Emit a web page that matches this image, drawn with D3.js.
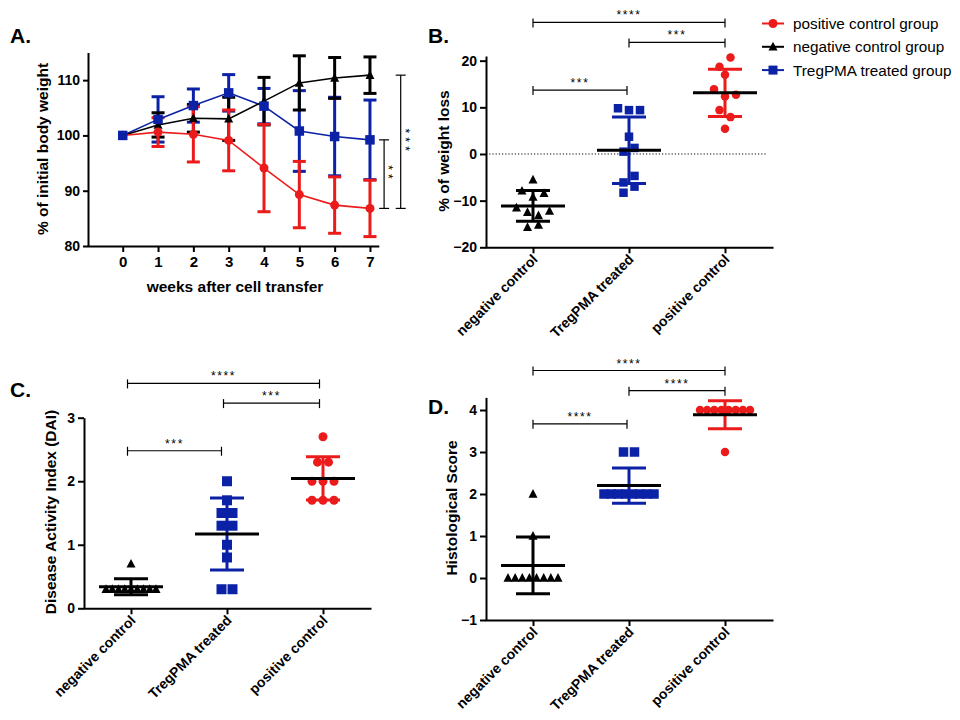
<!DOCTYPE html>
<html><head><meta charset="utf-8">
<script src="https://cdn.jsdelivr.net/npm/d3@7"></script>
<style>body{margin:0;background:#fff}svg{display:block}</style>
</head><body><svg id="c" width="960" height="720"></svg>
<script>
// ---------- DATA ----------
const weeks = [0, 1, 2, 3, 4, 5, 6, 7];
const posMean = [100, 100.6, 100.2, 99.1, 94.1, 89.3, 87.4, 86.8];
const posSD   = [0, 2.6, 5.0, 5.5, 7.9, 6.0, 5.1, 5.1];
const negMean = [100, 101.9, 103.1, 103.0, 106.2, 109.5, 110.4, 110.9];
const negSD   = [0, 2.2, 2.5, 3.9, 4.3, 4.9, 3.7, 3.3];
const tregMean = [100, 102.9, 105.4, 107.7, 105.3, 100.8, 99.8, 99.2];
const tregSD   = [0, 4.1, 3.0, 3.3, 3.2, 7.3, 7.1, 7.2];

const groupNames = ["positive control group", "negative control group", "TregPMA treated group"];
const categories = ["negative control", "TregPMA treated", "positive control"];

const lossNeg  = [-5.5, -7.9, -9.2, -8.4, -11.5, -12.5, -13.2, -12.2, -15.7, -15.2];
const lossTreg = [9.8, 9.4, 9.4, 3.7, 0.5, 1.3, -6.1, -4.7, -8.3, -7.0];
const lossPos  = [18.7, 20.7, 17.0, 13.9, 12.3, 12.7, 9.4, 7.9, 5.4];

const daiNeg  = [0.7, 0.3, 0.3, 0.3, 0.3, 0.3, 0.3, 0.3, 0.3, 0.3];
const daiTreg = [2.0, 1.7, 1.5, 1.5, 1.3, 1.3, 1.0, 0.8, 0.3, 0.3];
const daiPos  = [2.7, 2.3, 2.3, 2.0, 2.0, 2.0, 1.7, 1.7, 1.7];

const histNeg  = [2, 1, 0, 0, 0, 0, 0, 0, 0, 0];
const histTreg = [3, 3, 2, 2, 2, 2, 2, 2, 2, 2];
const histPos  = [4, 4, 4, 4, 4, 4, 4, 4, 3];

const yTicksA = [80, 90, 100, 110];
const yTicksB = [-20, -10, 0, 10, 20];
const yTicksC = [0, 1, 2, 3];
const yTicksD = [-1, 0, 1, 2, 3, 4];

// significance: [fromCategory, toCategory, label, level in data units]
const sigB = [[0, 2, "****", 28.2], [1, 2, "***", 23.9], [0, 1, "***", 13.7]];
const sigC = [[0, 2, "****", 3.54], [1, 2, "***", 3.23], [0, 1, "***", 2.48]];
const sigD = [[0, 2, "****", 4.94], [1, 2, "****", 4.46], [0, 1, "****", 3.67]];
// panel A brackets: [series top, series bottom, label, week position]
const sigA = [["treg", "pos", "**", 7.4], ["neg", "pos", "***", 7.87]];

// ---------- STYLE ----------
const FONT = "'Liberation Sans', Arial, Helvetica, sans-serif";
const RED = "#ec1b1b", BLUE = "#0c22a6", BLACK = "#000";
const svg = d3.select("#c");

function styleAxis(g, fs) {
  g.attr("font-family", FONT).attr("font-size", fs).attr("font-weight", "bold");
  g.selectAll("path.domain").attr("stroke", "#000").attr("stroke-width", 2);
  g.selectAll(".tick line").attr("stroke", "#000").attr("stroke-width", 2);
  g.selectAll(".tick text").attr("fill", "#000");
}
function marker(g, type, cx, cy, s, color) {
  if (type === "circle") g.append("circle").attr("cx", cx).attr("cy", cy).attr("r", s / 2).attr("fill", color);
  else if (type === "square") g.append("rect").attr("x", cx - s / 2).attr("y", cy - s / 2).attr("width", s).attr("height", s).attr("fill", color);
  else g.append("path").attr("d", `M${cx},${cy - s * 0.55}L${cx + s / 2},${cy + s * 0.42}L${cx - s / 2},${cy + s * 0.42}Z`).attr("fill", color);
}
function letter(t, x, y) {
  svg.append("text").attr("x", x).attr("y", y).text(t)
    .attr("font-family", FONT).attr("font-weight", "bold").attr("font-size", 21);
}
function yTitle(t, x, y) {
  svg.append("text").attr("transform", `translate(${x},${y}) rotate(-90)`).attr("text-anchor", "middle")
    .attr("font-family", FONT).attr("font-weight", "bold").attr("font-size", 15.5).text(t);
}

// ---------- PANEL A ----------
const xA = d3.scaleLinear().domain([-1, 7.25]).range([87.4, 378.8]);
const yA = d3.scaleLinear().domain([80, 115]).range([246, 52.5]);
svg.append("g").attr("transform", "translate(88,0)")
  .call(d3.axisLeft(yA).tickValues(yTicksA).tickSize(5).tickPadding(3).tickSizeOuter(0)).call(styleAxis, 14);
svg.append("g").attr("transform", "translate(0,246)")
  .call(d3.axisBottom(xA).tickValues(weeks).tickSize(6).tickPadding(4).tickSizeOuter(0)).call(styleAxis, 15);
svg.append("text").attr("x", 235).attr("y", 292).attr("text-anchor", "middle")
  .attr("font-family", FONT).attr("font-weight", "bold").attr("font-size", 15.5).text("weeks after cell transfer");
yTitle("% of initial body weight", 48, 149);
letter("A.", 10, 43);

const seriesA = {
  pos: { mean: posMean, sd: posSD, color: RED, shape: "circle", size: 9 },
  neg: { mean: negMean, sd: negSD, color: BLACK, shape: "triangle", size: 9 },
  treg: { mean: tregMean, sd: tregSD, color: BLUE, shape: "square", size: 9.5 }
};
const orderA = ["treg", "neg", "pos"];
const gA = svg.append("g");
orderA.forEach(k => {
  const s = seriesA[k];
  weeks.forEach((w, i) => {
    if (s.sd[i] <= 0) return;
    const x = xA(w), y1 = yA(s.mean[i] - s.sd[i]), y2 = yA(s.mean[i] + s.sd[i]);
    gA.append("line").attr("x1", x).attr("x2", x).attr("y1", y1).attr("y2", y2).attr("stroke", s.color).attr("stroke-width", 3);
    [y1, y2].forEach(yy => gA.append("line").attr("x1", x - 6.5).attr("x2", x + 6.5).attr("y1", yy).attr("y2", yy).attr("stroke", s.color).attr("stroke-width", 3));
  });
});
orderA.forEach(k => {
  const s = seriesA[k];
  gA.append("path").datum(weeks).attr("fill", "none").attr("stroke", s.color).attr("stroke-width", 1.6)
    .attr("d", d3.line().x(w => xA(w)).y((w, i) => yA(s.mean[i])));
});
["neg", "pos", "treg"].forEach(k => {
  const s = seriesA[k];
  weeks.forEach((w, i) => marker(gA, s.shape, xA(w), yA(s.mean[i]), s.size, s.color));
});
sigA.forEach(([a, b, lab, wk]) => {
  const x = xA(wk), yTop = yA(seriesA[a].mean[7]), yBot = yA(seriesA[b].mean[7]);
  gA.append("line").attr("x1", x).attr("x2", x).attr("y1", yTop).attr("y2", yBot).attr("stroke", "#000").attr("stroke-width", 1.2);
  [yTop, yBot].forEach(yy => gA.append("line").attr("x1", x - 5).attr("x2", x + 5).attr("y1", yy).attr("y2", yy).attr("stroke", "#000").attr("stroke-width", 1.2));
  gA.append("text").attr("transform", `translate(${x},${(yTop + yBot) / 2}) rotate(90)`).attr("text-anchor", "middle")
    .attr("font-family", FONT).attr("font-size", 12).attr("letter-spacing", 4.2).text(lab);
});

// ---------- LEGEND ----------
const legendItems = [
  { name: groupNames[0], color: RED, shape: "circle", size: 9 },
  { name: groupNames[1], color: BLACK, shape: "triangle", size: 9 },
  { name: groupNames[2], color: BLUE, shape: "square", size: 9 }
];
const gL = svg.append("g");
legendItems.forEach((d, i) => {
  const y = 23.5 + i * 23.3;
  gL.append("line").attr("x1", 762).attr("x2", 784).attr("y1", y).attr("y2", y).attr("stroke", d.color).attr("stroke-width", 2);
  marker(gL, d.shape, 773, y, d.size, d.color);
  gL.append("text").attr("x", 793).attr("y", y + 5.5).attr("font-family", FONT).attr("font-size", 15.3).text(d.name);
});

// ---------- SCATTER PANELS ----------
function rowLayout(vals, y, binH, spacing, maxW) {
  const idx = d3.range(vals.length).sort((a, b) => (y(vals[a]) - y(vals[b])) || (a - b));
  const off = new Array(vals.length).fill(0);
  let i = 0;
  while (i < idx.length) {
    const y0 = y(vals[idx[i]]);
    const bin = [];
    let j = i;
    while (j < idx.length && y(vals[idx[j]]) - y0 < binH) { bin.push(idx[j]); j++; }
    bin.sort((a, b) => a - b);
    const n = bin.length, sp = n > 1 ? Math.min(spacing, maxW / (n - 1)) : 0;
    bin.forEach((k, m) => off[k] = (m - (n - 1) / 2) * sp);
    i = j;
  }
  return off;
}

function scatterPanel(cfg) {
  const g = svg.append("g");
  const x = d3.scalePoint().domain(categories).range(cfg.xRange).padding(0.5);
  const y = cfg.y;
  const axisX = cfg.xRange[0] + 1;
  const baseY = y.range()[0];
  if (cfg.zeroLine) {
    g.append("line").attr("x1", axisX).attr("x2", cfg.xRange[1] - 6).attr("y1", y(0)).attr("y2", y(0))
      .attr("stroke", "#000").attr("stroke-width", 1).attr("stroke-dasharray", "1.2,2");
  }
  cfg.groups.forEach((grp, gi) => {
    const cx = x(categories[gi]);
    const off = rowLayout(grp.vals, y, 10.5, 11, 50);
    grp.vals.forEach((v, k) => marker(g, grp.shape, cx + off[k], y(v), grp.size, grp.color));
    const m = d3.mean(grp.vals), sd = d3.deviation(grp.vals);
    const yHi = y(m + sd), yLo = y(m - sd);
    g.append("line").attr("x1", cx).attr("x2", cx).attr("y1", yHi).attr("y2", yLo).attr("stroke", grp.color).attr("stroke-width", 3);
    [yHi, yLo].forEach(yy => g.append("line").attr("x1", cx - 17).attr("x2", cx + 17).attr("y1", yy).attr("y2", yy).attr("stroke", grp.color).attr("stroke-width", 3));
    g.append("line").attr("x1", cx - 32).attr("x2", cx + 32).attr("y1", y(m)).attr("y2", y(m)).attr("stroke", "#000").attr("stroke-width", 3);
  });
  g.append("g").attr("transform", `translate(${axisX},0)`)
    .call(d3.axisLeft(y).tickValues(cfg.ticks).tickFormat(d3.format("d")).tickSize(6).tickPadding(3).tickSizeOuter(0)).call(styleAxis, 14);
  const ax = g.append("g").attr("transform", `translate(0,${baseY})`)
    .call(d3.axisBottom(x).tickSize(6).tickSizeOuter(0)).call(styleAxis, 14);
  ax.selectAll(".tick text").attr("text-anchor", "end").attr("dy", null).attr("y", 0)
    .attr("transform", "translate(5,13) rotate(-45)");
  cfg.sig.forEach(([a, b, lab, lev]) => {
    const x1 = x(categories[a]) + cfg.sigDx, x2 = x(categories[b]) + cfg.sigDx - (b === 1 ? 2 : 0), yy = y(lev);
    g.append("line").attr("x1", x1).attr("x2", x2).attr("y1", yy).attr("y2", yy).attr("stroke", "#000").attr("stroke-width", 1.2);
    [x1, x2].forEach(xx => g.append("line").attr("x1", xx).attr("x2", xx).attr("y1", yy - 4).attr("y2", yy + 5).attr("stroke", "#000").attr("stroke-width", 1.2));
    g.append("text").attr("x", (x1 + x2) / 2).attr("y", yy - 3).attr("text-anchor", "middle")
      .attr("font-family", FONT).attr("font-size", 12).attr("letter-spacing", 1.6).text(lab);
  });
}

// Panel B
scatterPanel({
  xRange: [485, 773], y: d3.scaleLinear().domain([-20, 21]).range([247.3, 56]), ticks: yTicksB,
  zeroLine: true, sigDx: 0, sig: sigB,
  groups: [
    { vals: lossNeg, color: BLACK, shape: "triangle", size: 9 },
    { vals: lossTreg, color: BLUE, shape: "square", size: 8.5 },
    { vals: lossPos, color: RED, shape: "circle", size: 8.5 }
  ]
});
yTitle("% of weight loss", 449, 151);
letter("B.", 428, 43);

// Panel C
scatterPanel({
  xRange: [83, 371], y: d3.scaleLinear().domain([0, 3]).range([608.3, 417.7]), ticks: yTicksC,
  zeroLine: false, sigDx: -3.5, sig: sigC,
  groups: [
    { vals: daiNeg, color: BLACK, shape: "triangle", size: 9 },
    { vals: daiTreg, color: BLUE, shape: "square", size: 10 },
    { vals: daiPos, color: RED, shape: "circle", size: 9 }
  ]
});
yTitle("Disease Activity Index (DAI)", 56, 512);
letter("C.", 10, 397);

// Panel D
scatterPanel({
  xRange: [485, 773], y: d3.scaleLinear().domain([-1, 4.3]).range([620, 397.4]), ticks: yTicksD,
  zeroLine: false, sigDx: 0, sig: sigD,
  groups: [
    { vals: histNeg, color: BLACK, shape: "triangle", size: 9 },
    { vals: histTreg, color: BLUE, shape: "square", size: 9.5 },
    { vals: histPos, color: RED, shape: "circle", size: 8.5 }
  ]
});
yTitle("Histological Score", 457, 508);
letter("D.", 428, 414);
</script>
</body></html>
